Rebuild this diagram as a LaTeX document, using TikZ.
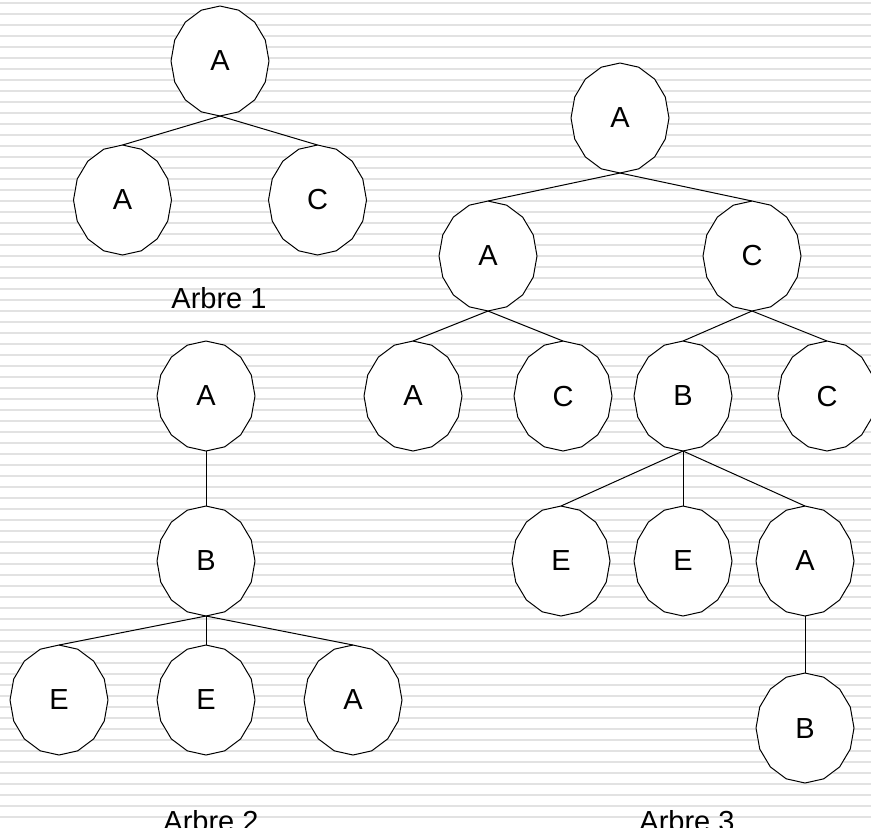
\documentclass[tikz,border=0pt]{standalone}
\usepackage{fontspec}
\setmainfont{Liberation Sans}
\usepackage{tikz}
\usetikzlibrary{positioning,shapes.geometric,trees}
\definecolor{rayure}{RGB}{226,226,226}
\tikzset{
    treenode/.style={ellipse, fill=white, minimum width=49pt, minimum height=55pt, inner sep=0pt, outer sep=0pt, font=\fontsize{14.5}{17}\selectfont},
    edge from parent/.style={draw=black, line width=0.5pt},
    parent anchor=south, child anchor=north
}

\begin{document}
\begin{tikzpicture}[
        x=0.5pt, y=-0.5pt,
        % --- STYLE ---
        stripe/.style={draw=rayure, line width=1pt},
        contour/.style={draw=black, line width=0.5pt, line join=round},
        arbre_text/.style={
            font=\fontsize{14.5}{17}\selectfont,
            anchor=base,
            inner sep=0pt
        }
    ]

        % --- FOND RAYE ---
        \useasboundingbox (0,0) rectangle (871,827);
        \clip (0,0) rectangle (871,827);
        \fill[white] (0,0) rectangle (871,827);
        \foreach \k in {0,...,74}
            \draw[stripe] (0,{3+11*\k}) -- (871,{3+11*\k});

        % --- ARBRE 1 ---
        \begin{scope}[level 1/.style={sibling distance=97.5pt, level distance=69.5pt}]
        \node[treenode] (a1) at (220,61) {A}
            child { node[treenode] (a1g) {A} }
            child { node[treenode] (a1d) {C} };
        \end{scope}

        % --- ARBRE 2 ---
        \begin{scope}[
            level 1/.style={level distance=82.5pt},
            level 2/.style={sibling distance=73.5pt, level distance=69.5pt}]
        \node[treenode] (a2) at (206,396) {A}
            child { node[treenode] (a2b) {B}
                child { node[treenode] (a2e1) {E} }
                child { node[treenode] (a2e2) {E} }
                child { node[treenode] (a2a) {A} }
            };
        \end{scope}

        % --- ARBRE 3 ---
        \begin{scope}[
            level 1/.style={sibling distance=132pt, level distance=69pt},
            level 2/.style={sibling distance=75pt, level distance=70pt},
            level 3/.style={sibling distance=61pt, level distance=82.5pt},
            level 4/.style={level distance=83.5pt}]
        \node[treenode] (a3) at (620,118) {A}
            % branche A
            child { node[treenode] (a3a) {A}
                child { node[treenode] (a3aa) {A} }
                child { node[treenode] (a3ac) {C} }
            }
            % branche C
            child { node[treenode] (a3c) {C}
                child[xshift=3pt] { node[treenode] (a3b) {B}
                    child { node[treenode] (a3be1) {E} }
                    child { node[treenode] (a3be2) {E} }
                    child { node[treenode] (a3ba) {A}
                        child { node[treenode] (a3bab) {B} }
                    }
                }
                child { node[treenode] (a3cc) {C} }
            };
        \end{scope}

        % --- CONTOURS (polygones a 16 cotes) ---
        \foreach \n in {a1,a1g,a1d,a2,a2b,a2e1,a2e2,a2a,a3,a3a,a3aa,a3ac,a3c,a3cc,a3b,a3be1,a3be2,a3ba,a3bab}
            \draw[contour, shift={(\n.center)}] (0:24.5pt and 27.5pt)
                \foreach \a in {22.5,45,...,337.5}{ -- (\a:24.5pt and 27.5pt)} -- cycle;

        % --- LEGENDES ---
        \node[arbre_text] (t1) at (219,308) {Arbre 1};
        \node[arbre_text] (t2) at (211,831) {Arbre 2};
        \node[arbre_text] (t3) at (687,831) {Arbre 3};

    \end{tikzpicture}
\end{document}
